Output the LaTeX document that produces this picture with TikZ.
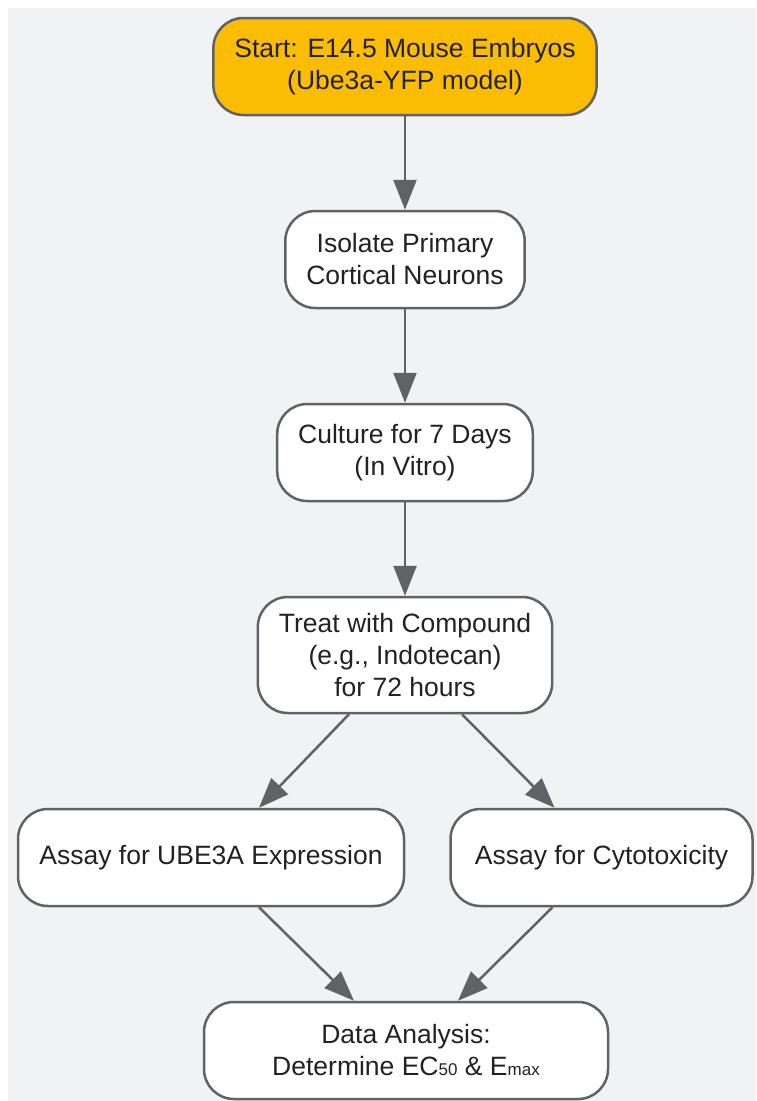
\documentclass[tikz,border=0pt]{standalone}
\usepackage{fontspec}
\setmainfont{Liberation Sans}
\usepackage{tikz}
\usetikzlibrary{arrows.meta,positioning}
\usepackage{xcolor}
\definecolor{bgGrey}{HTML}{F1F2F4}
\definecolor{lineGrey}{HTML}{5F6368}
\definecolor{startYellow}{HTML}{FBBC04}
\definecolor{textDark}{HTML}{222222}

\newcommand{\lowtext}[1]{{\fontsize{17}{20}\selectfont #1}}

\begin{document}
\begin{tikzpicture}[
            x = 1pt, y = 1pt,
            > = {Triangle[length=30pt,width=23pt]}, % arrow head style
            node distance = 93.5pt, % gap between boxes
            line width = 2.5pt,% line style
            font = \fontsize{26.5}{32}\selectfont
        ]

        \tikzstyle{box}=[
            draw = lineGrey,
            fill = white,
            text = textDark,
            rounded corners = 30pt,
            align = center,
            minimum height = 97pt,
            inner xsep = 21pt,
            inner ysep = 12pt
        ]
        \tikzstyle{flow}=[->, draw = lineGrey, fill = lineGrey]

        % sfondo
        \useasboundingbox (0,0) rectangle (756,-1101);
        \fill[bgGrey] (8,-8) rectangle (756,-1101);

        % passi
        \node[box, fill=startYellow] (start) at (405,-66.5) {Start: E14.5 Mouse Embryos\\(Ube3a-YFP model)};
        \node[box] (isolate) [below=of start] {Isolate Primary\\Cortical Neurons};
        \node[box] (culture) [below=of isolate] {Culture for 7 Days\\(In Vitro)};
        \node[box, minimum height=116pt] (treat) [below=of culture] {Treat with Compound\\(e.g., Indotecan)\\for 72 hours};
        \path[flow] (start) -- (isolate);
        \path[flow] (isolate) -- (culture);
        \path[flow] (culture) -- (treat);

        % saggi
        \node[box, minimum width=386pt] (assay) [below=of treat, xshift=-194pt] {Assay for UBE3A Expression};
        \node[box, minimum width=302pt] (cyto) [right=44pt of assay] {Assay for Cytotoxicity};
        \path[flow] ([xshift=-56pt]treat.south) -- ([xshift=48pt]assay.north);
        \path[flow] ([xshift=57pt]treat.south) -- ([xshift=-47pt]cyto.north);

        % analisi
        \node[box, minimum width=404pt] (analysis) [below=of assay, xshift=195pt] {Data Analysis:\\Determine EC\lowtext{50} \& E\lowtext{max}};
        \path[flow] ([xshift=48pt]assay.south) -- ([xshift=-52pt]analysis.north);
        \path[flow] ([xshift=-49pt]cyto.south) -- ([xshift=52pt]analysis.north);

\end{tikzpicture}
\end{document}
